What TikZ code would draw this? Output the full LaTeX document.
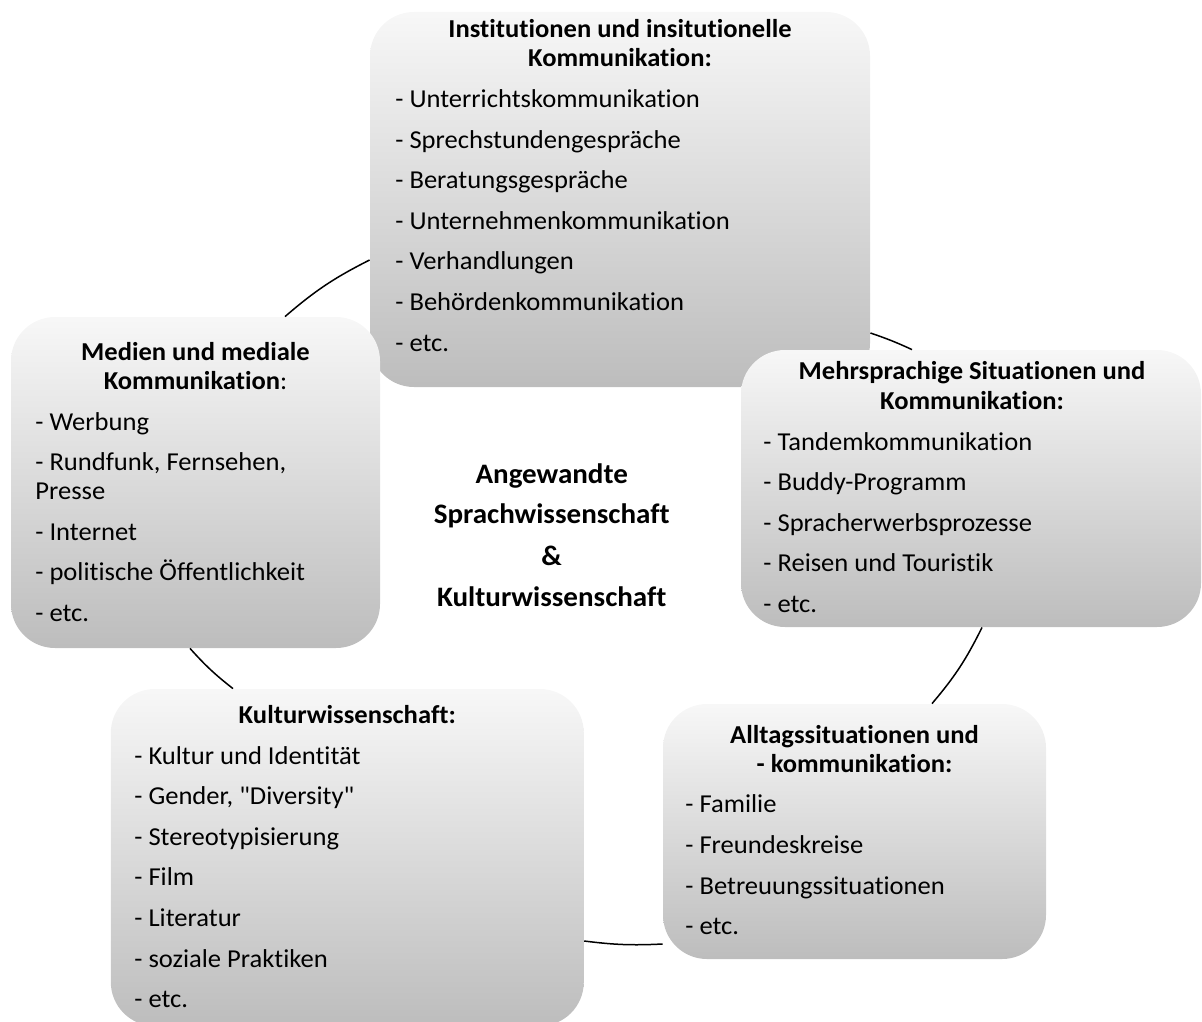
\documentclass[tikz,border=0pt]{standalone}
\usepackage{fontspec}
\setmainfont{Carlito}[FakeStretch=1.03, Ligatures={TeXOff,NoCommon}]
\usetikzlibrary{calc}
\newcommand\itmfont{\fontsize{12.9}{14}\selectfont}
\newcommand\ttlfont{\fontsize{12.9}{14}\selectfont\bfseries}
\newcommand\ctrfont{\fontsize{14.1}{15}\selectfont\bfseries}
\tikzset{
  box/.style={rounded corners=22pt, top color=black!3, bottom color=black!26, draw=none, inner sep=0pt},
  ttl/.style={font=\ttlfont, anchor=base, inner sep=0pt},
  itm/.style={font=\itmfont, anchor=base west, inner sep=0pt},
  ctr/.style={font=\ctrfont, anchor=base, inner sep=0pt},
  arcline/.style={draw=black, line width=0.75pt}
}
\begin{document}
\begin{tikzpicture}[x=0.5pt, y=-0.5pt]
\useasboundingbox (0,0) rectangle (1202,1021);
% boxes
\node[box, minimum width=250pt, minimum height=187.5pt] (inst) at (620,199.5) {};
\node[box, minimum width=184.5pt, minimum height=165.5pt] (med) at (195.5,482.5) {};
\node[box, minimum width=230pt, minimum height=138.5pt] (mehr) at (971,488.5) {};
\node[box, minimum width=191.5pt, minimum height=127.5pt] (allt) at (854.5,831.5) {};
\node[box, minimum width=236.5pt, minimum height=168.5pt] (kult) at (347.3,857.5) {};
% arcs
\draw[arcline] ($(med.north)+(89.5,0)$) to[bend left=7] ($(inst.west)+(0,60.5)$);
\draw[arcline] ($(inst.east)+(0,133.5)$) to[bend left=3] ($(mehr.north)+(-59,0)$);
\draw[arcline] ($(mehr.south)+(11,0)$) to[bend left=7] ($(allt.north)+(77.5,0)$);
\draw[arcline] ($(allt.west)+(0,112.5)$) to[bend left=5] ($(kult.east)+(0,83.5)$);
\draw[arcline] ($(kult.north)+(-114.3,0)$) to[bend left=5] ($(med.south)+(-5.5,0)$);
% inst text
\node[ttl] (inst-t1) at (620,37.5) {Institutionen und insitutionelle};
\node[ttl] (inst-t2) at (620,67) {Kommunikation:};
\node[itm] (inst-1) at (395,108) {- Unterrichtskommunikation};
\node[itm] (inst-2) at (395,148.5) {- Sprechstundengespräche};
\node[itm] (inst-3) at (395,189) {- Beratungsgespräche};
\node[itm] (inst-4) at (395,229.5) {- Unternehmenkommunikation};
\node[itm] (inst-5) at (395,270) {- Verhandlungen};
\node[itm] (inst-6) at (395,310.5) {- Behördenkommunikation};
\node[itm] (inst-7) at (395,351) {- etc.};
% med text
\node[ttl] (med-t1) at (195.5,360) {Medien und mediale};
\node[ttl] (med-t2) at (195.5,389) {Kommunikation{\mdseries:}};
\node[itm] (med-1) at (35,430) {- Werbung};
\node[itm] (med-2) at (35,470) {- Rundfunk, Fernsehen,};
\node[itm] (med-2b) at (35,499.3) {Presse};
\node[itm] (med-3) at (35,540) {- Internet};
\node[itm] (med-4) at (35,580.7) {- politische Öffentlichkeit};
\node[itm] (med-5) at (35,621.7) {- etc.};
% mehr text
\node[ttl] (mehr-t1) at (972,379.3) {Mehrsprachige Situationen und};
\node[ttl] (mehr-t2) at (972,409.3) {Kommunikation:};
\node[itm] (mehr-1) at (763,450) {- Tandemkommunikation};
\node[itm] (mehr-2) at (763,490.5) {- Buddy-Programm};
\node[itm] (mehr-3) at (763,531) {- Spracherwerbsprozesse};
\node[itm] (mehr-4) at (763,571.5) {- Reisen und Touristik};
\node[itm] (mehr-5) at (763,612) {- etc.};
% allt text
\node[ttl] (allt-t1) at (854.5,743.3) {Alltagssituationen und};
\node[ttl] (allt-t2) at (854.5,772) {- kommunikation:};
\node[itm] (allt-1) at (685,812.7) {- Familie};
\node[itm] (allt-2) at (685,853.3) {- Freundeskreise};
\node[itm] (allt-3) at (685,894) {- Betreuungssituationen};
\node[itm] (allt-4) at (685,934.5) {- etc.};
% kult text
\node[ttl] (kult-t1) at (347.3,723.3) {Kulturwissenschaft:};
\node[itm] (kult-1) at (134,764) {- Kultur und Identität};
\node[itm] (kult-2) at (134,804.5) {- Gender, "Diversity"};
\node[itm] (kult-3) at (134,845) {- Stereotypisierung};
\node[itm] (kult-4) at (134,885.7) {- Film};
\node[itm] (kult-5) at (134,926.5) {- Literatur};
\node[itm] (kult-6) at (134,967) {- soziale Praktiken};
\node[itm] (kult-7) at (134,1007.5) {- etc.};
% centre text
\node[ctr] (c1) at (551.7,483.3) {Angewandte};
\node[ctr] (c2) at (551.7,523.5) {Sprachwissenschaft};
\node[ctr] (c3) at (551.7,565) {\&};
\node[ctr] (c4) at (551.7,606.7) {Kulturwissenschaft};
\end{tikzpicture}
\end{document}
